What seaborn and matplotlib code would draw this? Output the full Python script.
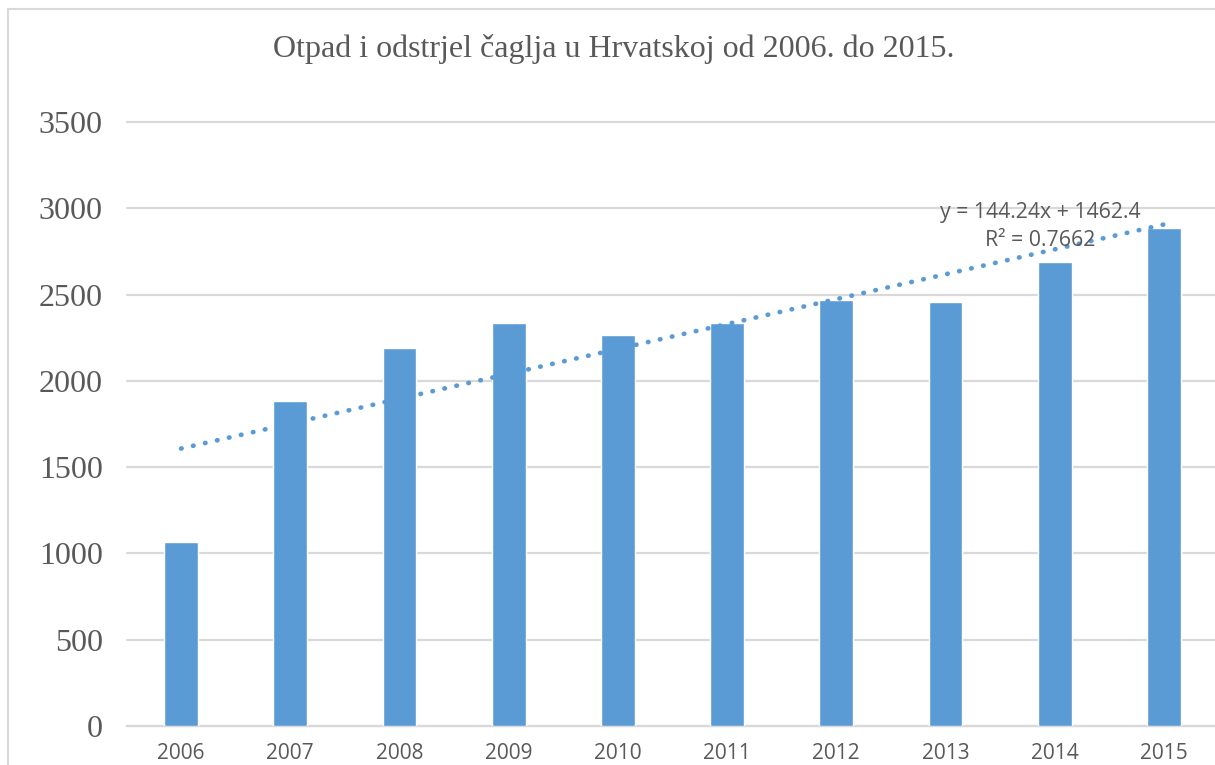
import matplotlib
matplotlib.use('Agg')
import matplotlib.pyplot as plt
import numpy as np
import pandas as pd
import seaborn as sns

# values
years = ['2006', '2007', '2008', '2009', '2010', '2011', '2012', '2013', '2014', '2015']
counts = [1066, 1883, 2190, 2335, 2265, 2335, 2468, 2456, 2688, 2885]
eq_label = 'y = 144.24x + 1462.4'
r2_label = 'R² = 0.7662'

df = pd.DataFrame({'Godina': years, 'Broj': counts})

bar_color = '#5B9BD5'
text_color = '#595959'
grid_color = '#D9D9D9'

sns.set_style('white')
plt.rcParams['font.family'] = ['Liberation Serif', 'DejaVu Serif']

fig = plt.figure(figsize=(12.15, 7.65), dpi=100)
ax = fig.add_axes([126.5 / 1215, 39 / 765, 1092 / 1215, 604 / 765])

sns.barplot(data=df, x='Godina', y='Broj', color=bar_color, width=0.31,
            saturation=1, ax=ax, zorder=3)

# linear trendline like Excel (x = 1..n)
xs = np.arange(1, len(counts) + 1)
k, b = np.polyfit(xs, counts, 1)
ax.plot(xs - 1, k * xs + b, linestyle=(0, (0.1, 2.5)), dash_capstyle='round',
        linewidth=3.4, color=bar_color, zorder=4)

ax.set_xlim(-0.5, len(years) - 0.5)
ax.set_ylim(0, 3500)
ax.set_yticks(range(0, 3501, 500))
ax.yaxis.grid(True, color=grid_color, linewidth=1.6, zorder=0)
for gl in ax.get_ygridlines():
    gl.set_clip_on(False)
ax.set_xlabel('')
ax.set_ylabel('')
for s in ['left', 'right', 'top']:
    ax.spines[s].set_visible(False)
ax.spines['bottom'].set_color(grid_color)
ax.spines['bottom'].set_linewidth(1.6)

ax.tick_params(axis='y', length=0, pad=17, labelsize=23, labelcolor=text_color)
ax.tick_params(axis='x', length=0, pad=12, labelsize=15, labelcolor=text_color)
for lab in ax.get_xticklabels():
    lab.set_fontfamily(['Open Sans', 'DejaVu Sans'])

ax.text(7.865, 2978, eq_label, ha='center', va='center', fontsize=15.3,
        color=text_color, family=['Open Sans', 'DejaVu Sans'], zorder=5)
ax.text(7.865, 2816, r2_label, ha='center', va='center', fontsize=15.3,
        color=text_color, family=['Open Sans', 'DejaVu Sans'], zorder=5)

fig.text(0.505, 1 - 49 / 765, 'Otpad i odstrjel čaglja u Hrvatskoj od 2006. do 2015.',
         ha='center', va='center', fontsize=23, color=text_color)

# chart frame
fig.add_artist(plt.Rectangle((8 / 1215, -0.05), 1.2, 1 - 9 / 765 + 0.05,
                             transform=fig.transFigure, fill=False,
                             edgecolor=grid_color, linewidth=1.5))

fig.savefig('out.png', dpi=100)
